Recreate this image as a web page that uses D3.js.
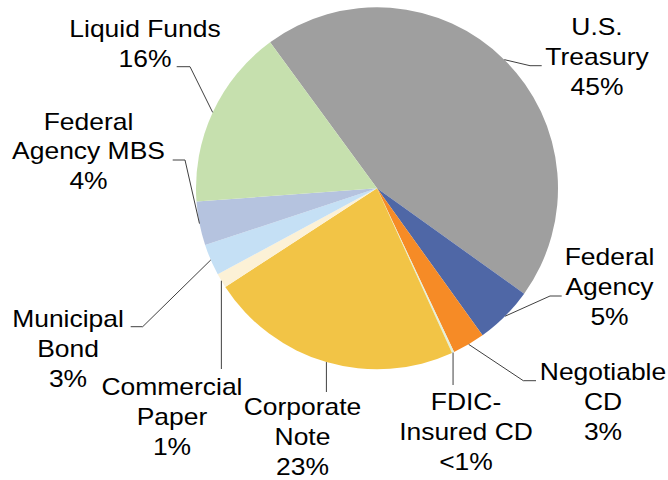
<!DOCTYPE html>
<html>
<head>
<meta charset="utf-8">
<script src="https://cdn.jsdelivr.net/npm/d3@7"></script>
<style>
  body { margin: 0; background: #fff; }
</style>
</head>
<body>
<div id="canvas"></div>
<script>
"use strict";

/**** DATA ****/
let categories = ["U.S. Treasury", "Federal Agency", "Negotiable CD", "FDIC-Insured CD",
    "Corporate Note", "Commercial Paper", "Municipal Bond", "Federal Agency MBS", "Liquid Funds"];
let shares = [44.9, 5.2, 2.9, 0.2, 22.6, 1.3, 2.8, 3.9, 16.1];
let pctLabels = ["45%", "5%", "3%", "<1%", "23%", "1%", "3%", "4%", "16%"];
let nameLines = [["U.S.", "Treasury"], ["Federal", "Agency"], ["Negotiable", "CD"], ["FDIC-", "Insured CD"],
    ["Corporate", "Note"], ["Commercial", "Paper"], ["Municipal", "Bond"], ["Federal", "Agency MBS"], ["Liquid Funds"]];

/**** CONFIGURATION ****/
let svgWidth = 668;
let svgHeight = 480;
let cx = 377;
let cy = 188.3;
let radius = 181;
let startDeg = -36.2;

let colors = ["#9f9f9f", "#4f67a6", "#f68b26", "#e4efd9", "#f2c446",
    "#fcf1d6", "#c5e0f5", "#b5c3df", "#c6e0ae"];

// label placement: text centre / first baseline, and leader elbow + end
let labelLayout = [
    { x: 597, y: 35, elbow: [530, 65.7], end: [541.7, 65.7] },
    { x: 609.5, y: 265, elbow: [550, 296], end: [561.7, 296] },
    { x: 603, y: 380, elbow: [523.3, 380.7], end: [536, 380.7] },
    { x: 466, y: 410, drop: 385 },
    { x: 302.5, y: 415, drop: 392 },
    { x: 172, y: 395, drop: 369 },
    { x: 68, y: 327, elbow: [142.7, 326.7], end: [130.7, 326.7] },
    { x: 88.5, y: 129.5, elbow: [185, 160], end: [172.7, 160] },
    { x: 145, y: 36.7, elbow: [190, 66.7], end: [176.7, 66.7] }
];

let svg = d3.select("#canvas")
    .append("svg")
    .attr("width", svgWidth)
    .attr("height", svgHeight)
    .style("display", "block");

let pie = d3.pie()
    .sort(null)
    .startAngle(startDeg * Math.PI / 180)
    .endAngle(startDeg * Math.PI / 180 + 2 * Math.PI);

let arcs = pie(shares);

let arc = d3.arc()
    .innerRadius(0)
    .outerRadius(radius);

let g = svg.append("g")
    .attr("transform", `translate(${cx},${cy})`);

/**** SLICES ****/
g.selectAll("path.slice")
    .data(arcs)
    .join("path")
    .attr("class", "slice")
    .attr("d", arc)
    .attr("fill", function(d, i) {
        return colors[i];
    });

/**** LEADER LINES ****/
for (let i = 0; i < arcs.length; i++) {
    let mid = (arcs[i].startAngle + arcs[i].endAngle) / 2;
    let sx = cx + radius * Math.sin(mid);
    let sy = cy - radius * Math.cos(mid);
    let lay = labelLayout[i];
    let pts;
    if (lay.drop !== undefined) {
        pts = [[sx, sy], [sx, lay.drop]];
    } else {
        pts = [[sx, sy], lay.elbow, lay.end];
    }
    svg.append("path")
        .attr("d", d3.line()(pts))
        .attr("fill", "none")
        .attr("stroke", "#404040")
        .attr("stroke-width", 1);
}

/**** LABELS ****/
for (let i = 0; i < categories.length; i++) {
    let lay = labelLayout[i];
    let lines = nameLines[i].concat([pctLabels[i]]);
    let t = svg.append("text")
        .attr("transform", `translate(${lay.x},${lay.y}) scale(1.15,1)`)
        .attr("text-anchor", "middle")
        .style("font-family", "'Liberation Sans', Arial, sans-serif")
        .style("font-size", "23px")
        .attr("fill", "#000");
    for (let j = 0; j < lines.length; j++) {
        t.append("tspan")
            .attr("x", 0)
            .attr("y", j * 30)
            .text(lines[j]);
    }
}
</script>
</body>
</html>
